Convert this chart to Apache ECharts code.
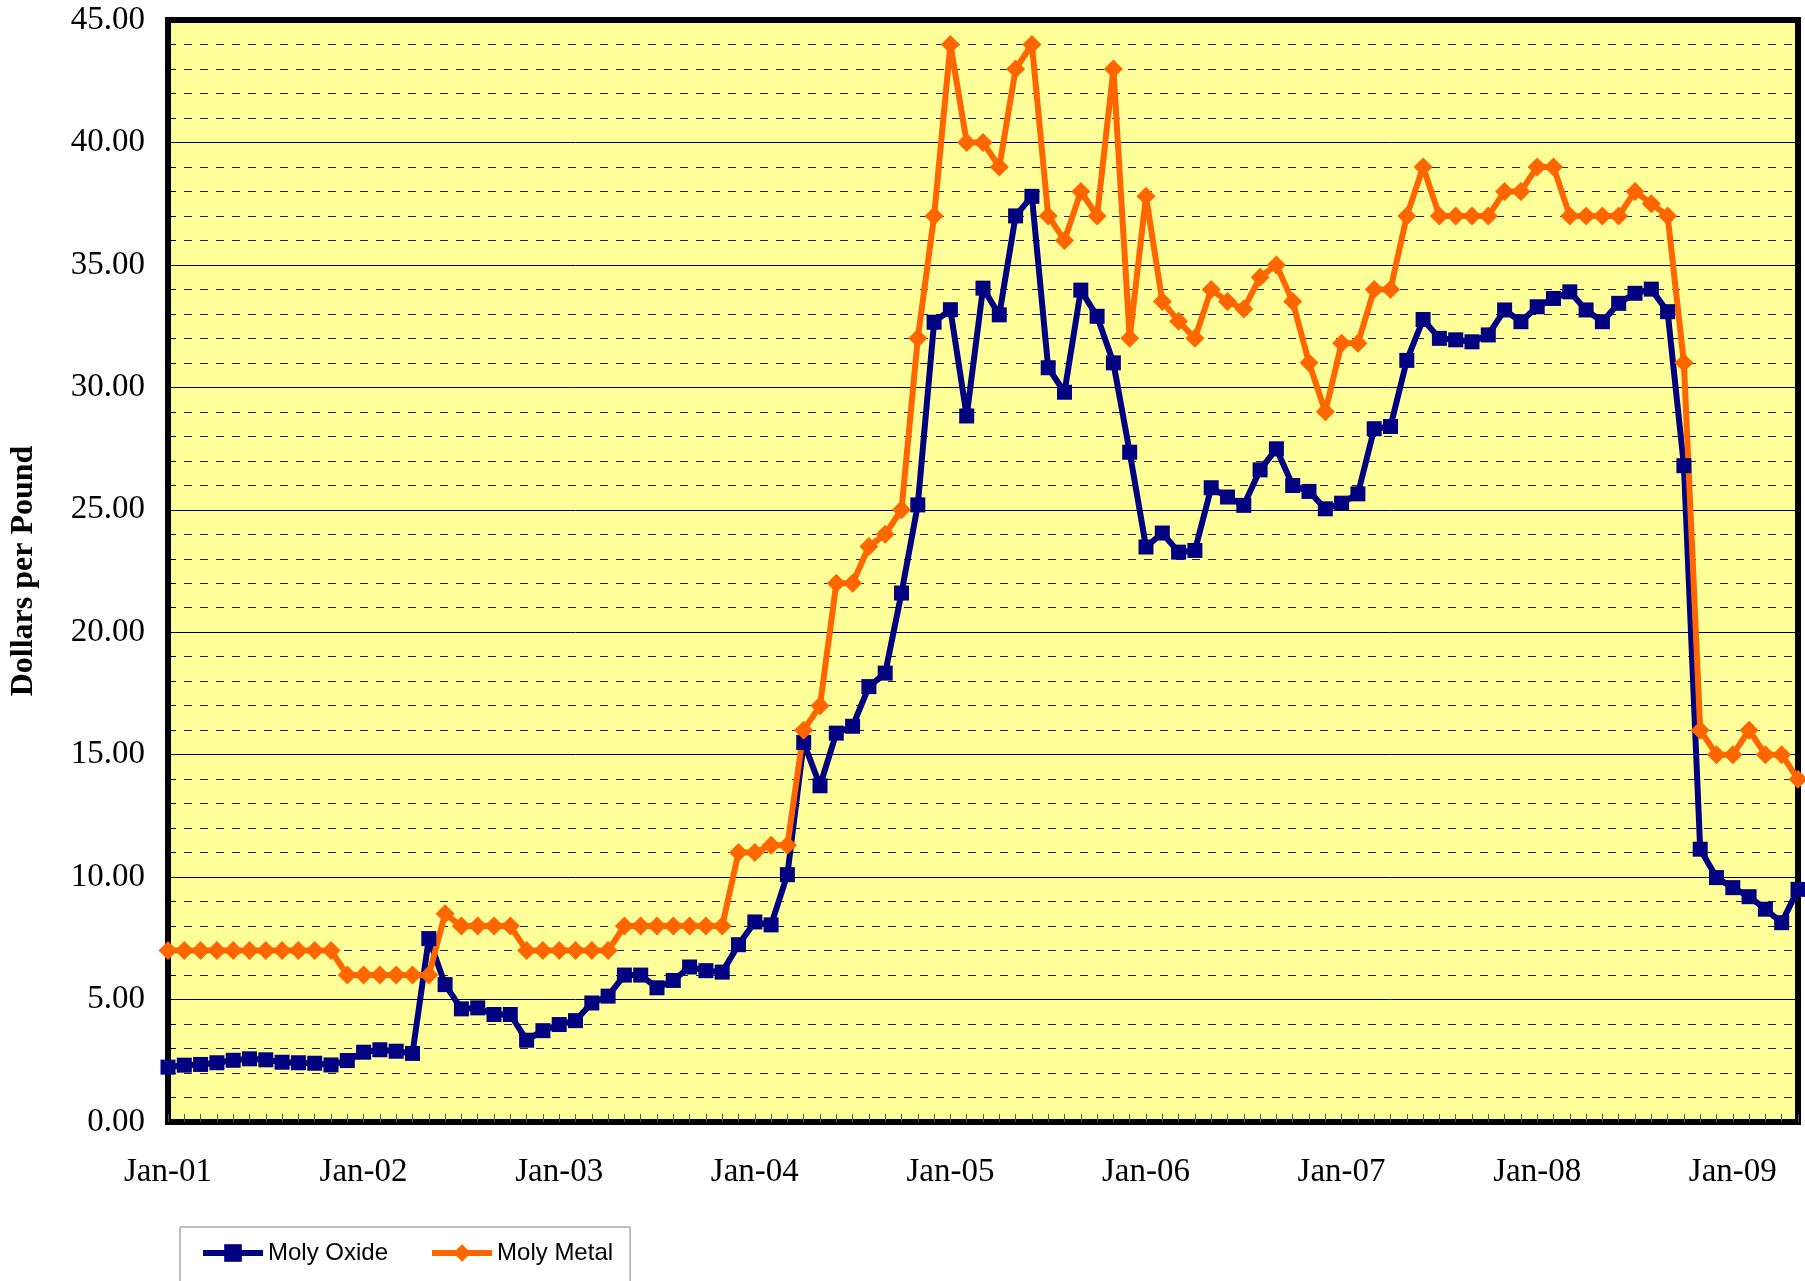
<!DOCTYPE html>
<html>
<head>
<meta charset="utf-8">
<title>Moly Oxide / Moly Metal</title>
<script src="https://cdn.jsdelivr.net/npm/echarts@6.0.0/dist/echarts.min.js"></script>
<style>
html, body { margin: 0; padding: 0; background: #fff; }
#main { width: 1805px; height: 1281px; }
</style>
</head>
<body>
<div id="main"></div>
<script>
// monthly prices, Jan-01 .. May-09
var monthNames = ['Jan', 'Feb', 'Mar', 'Apr', 'May', 'Jun', 'Jul', 'Aug', 'Sep', 'Oct', 'Nov', 'Dec'];
var years = ['01', '02', '03', '04', '05', '06', '07', '08', '09'];
var pointCount = 101;

var molyOxide = [
    2.24, 2.32, 2.35, 2.42, 2.52, 2.58, 2.54, 2.44, 2.42, 2.40, 2.33, 2.51,
    2.85, 2.95, 2.89, 2.80, 7.49, 5.61, 4.62, 4.66, 4.39, 4.39, 3.34, 3.73,
    3.98, 4.14, 4.86, 5.14, 6.00, 6.00, 5.48, 5.78, 6.33, 6.18, 6.12, 7.24,
    8.17, 8.05, 10.10, 15.50, 13.73, 15.88, 16.16, 17.78, 18.33, 21.60, 25.20, 32.66,
    33.17, 28.83, 34.05, 32.96, 37.00, 37.80, 30.80, 29.80, 33.97, 32.90, 31.00, 27.35,
    23.48, 24.05, 23.27, 23.34, 25.90, 25.52, 25.18, 26.63, 27.49, 25.99, 25.75, 25.04,
    25.27, 25.65, 28.31, 28.40, 31.10, 32.77, 32.00, 31.94, 31.86, 32.14, 33.16, 32.68,
    33.29, 33.63, 33.90, 33.16, 32.68, 33.43, 33.84, 34.01, 33.09, 26.80, 11.14, 9.98,
    9.57, 9.20, 8.69, 8.14, 9.50
];

var molyMetal = [
    7, 7, 7, 7, 7, 7, 7, 7, 7, 7, 7, 6,
    6, 6, 6, 6, 6, 8.5, 8, 8, 8, 8, 7, 7,
    7, 7, 7, 7, 8, 8, 8, 8, 8, 8, 8, 11,
    11, 11.3, 11.3, 16, 17, 22, 22, 23.5, 24, 25, 32, 37,
    44, 40, 40, 39, 43, 44, 37, 36, 38, 37, 43, 32,
    37.8, 33.5, 32.7, 32, 34, 33.5, 33.2, 34.5, 35, 33.5, 31, 29,
    31.8, 31.8, 34, 34, 37, 39, 37, 37, 37, 37, 38, 38,
    39, 39, 37, 37, 37, 37, 38, 37.5, 37, 31, 16, 15,
    15, 16, 15, 15, 14
];

var months = [];
for (var y = 0; y < years.length; y++) {
    for (var m = 0; m < 12; m++) {
        if (months.length < pointCount) {
            months.push(monthNames[m] + '-' + years[y]);
        }
    }
}

var serif = "'Liberation Serif', 'Times New Roman', serif";
var sans = "'Liberation Sans', Arial, sans-serif";

var myChart = echarts.init(document.getElementById('main'));

var option = {
    animation: false,
    backgroundColor: '#ffffff',
    grid: {
        left: 168,
        right: 7,
        top: 20,
        bottom: 159,
        show: true,
        backgroundColor: '#FFFF99',
        borderColor: '#000000',
        borderWidth: 6
    },
    legend: {
        left: 180,
        top: 1227,
        // box runs past the bottom edge, as in the original
        padding: [14, 17, 24, 20],
        itemGap: 41,
        itemWidth: 60,
        itemHeight: 22,
        borderColor: '#808080',
        borderWidth: 1,
        lineStyle: { width: 6 },
        textStyle: {
            fontFamily: sans,
            fontSize: 24,
            color: '#000'
        },
        data: ['Moly Oxide', 'Moly Metal']
    },
    xAxis: {
        type: 'category',
        boundaryGap: false,
        data: months,
        axisLine: { show: false },
        axisTick: {
            show: true,
            inside: true,
            interval: 0,
            length: 8,
            lineStyle: { color: '#555', width: 1 }
        },
        axisLabel: {
            interval: 11,
            margin: 34,
            fontFamily: serif,
            fontSize: 33,
            color: '#000'
        },
        splitLine: { show: false }
    },
    yAxis: {
        type: 'value',
        min: 0,
        max: 45,
        interval: 5,
        name: 'Dollars per Pound',
        nameLocation: 'middle',
        nameGap: 128,
        nameTextStyle: {
            fontFamily: serif,
            fontSize: 32,
            fontWeight: 'bold',
            color: '#000'
        },
        axisLine: { show: false },
        axisTick: {
            show: true,
            inside: true,
            length: 8,
            lineStyle: { color: '#000', width: 1 }
        },
        minorTick: {
            show: true,
            splitNumber: 5,
            length: 8,
            lineStyle: { color: '#000', width: 1 }
        },
        axisLabel: {
            margin: 23,
            fontFamily: serif,
            fontSize: 33,
            color: '#000',
            formatter: function (v) {
                return v.toFixed(2);
            }
        },
        splitLine: {
            show: true,
            lineStyle: { color: '#000', width: 1, type: 'solid' }
        },
        minorSplitLine: {
            show: true,
            lineStyle: { color: '#222', width: 1, type: [8, 8] }
        }
    },
    series: [{
        name: 'Moly Oxide',
        type: 'line',
        data: molyOxide,
        symbol: 'rect',
        symbolSize: 15,
        showAllSymbol: true,
        lineStyle: { color: '#000080', width: 6 },
        itemStyle: { color: '#000080' }
    }, {
        name: 'Moly Metal',
        type: 'line',
        data: molyMetal,
        symbol: 'diamond',
        symbolSize: 19,
        showAllSymbol: true,
        lineStyle: { color: '#FF6600', width: 6 },
        itemStyle: { color: '#FF6600' }
    }]
};

myChart.setOption(option);
</script>
</body>
</html>
